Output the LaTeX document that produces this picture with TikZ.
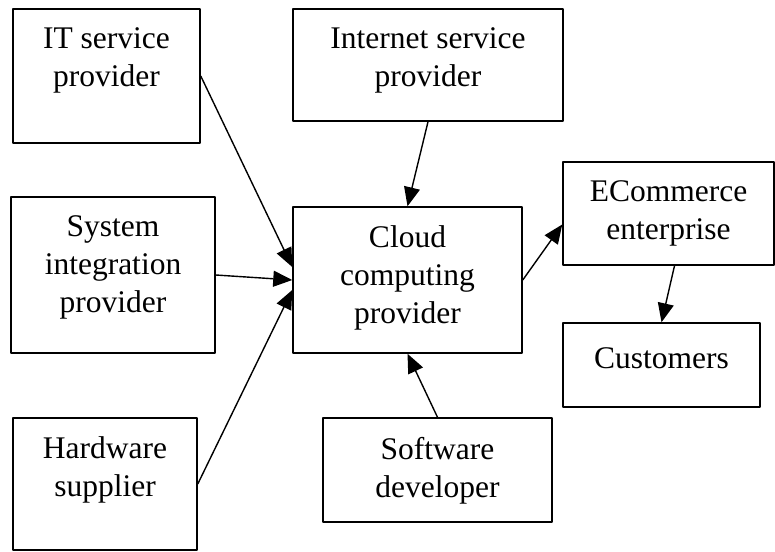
\documentclass[tikz,border=0pt]{standalone}
\usepackage{fontspec}
\setmainfont{Liberation Serif}
\usetikzlibrary{arrows.meta}
\tikzset{
	box/.style={draw, line width=1.5pt, inner sep=0pt},
	txt/.style={align=center, anchor=north, inner sep=0pt, font=\fontsize{31.5}{38}\selectfont, execute at begin node=\strut},
	arr/.style={line width=1.4pt, -{Triangle[length=19pt, width=16pt]}}
}
\begin{document}
\begin{tikzpicture}[x=1pt, y=1pt, line join=round]
	\useasboundingbox (0,0) rectangle (775,-551);
	\def\pad{19.5}
	\node[box, minimum width=187, minimum height=134] (it) at (106.5,-76) {};
	\node[box, minimum width=270, minimum height=112] (isp) at (428,-65) {};
	\node[box, minimum width=204, minimum height=156] (sys) at (113,-275) {};
	\node[box, minimum width=229, minimum height=146] (cloud) at (407.5,-280) {};
	\node[box, minimum width=211, minimum height=103] (ecom) at (668.5,-213.5) {};
	\node[box, minimum width=197, minimum height=84] (cust) at (661.5,-365) {};
	\node[box, minimum width=184, minimum height=132] (hw) at (105,-484) {};
	\node[box, minimum width=229, minimum height=104] (sw) at (437.5,-470) {};
	% texts
	\node[txt] (itT) at ([yshift=-\pad]it.north) {IT service\\provider};
	\node[txt] (ispT) at ([yshift=-\pad]isp.north) {Internet service\\provider};
	\node[txt] (sysT) at ([yshift=-\pad]sys.north) {System\\integration\\provider};
	\node[txt] (cloudT) at ([yshift=-\pad]cloud.north) {Cloud\\computing\\provider};
	\node[txt] (ecomT) at ([yshift=-\pad]ecom.north) {ECommerce\\enterprise};
	\node[txt] (custT) at ([yshift=-\pad]cust.north) {Customers};
	\node[txt] (hwT) at ([yshift=-\pad]hw.north) {Hardware\\supplier};
	\node[txt] (swT) at ([yshift=-\pad]sw.north) {Software\\developer};
	% arrows
	\foreach \src/\dy in {it/13, sys/0, hw/-10} \draw[arr] (\src.east) -- ([yshift=\dy]cloud.west);
	\draw[arr] (isp.south) -- (cloud.north);
	\draw[arr] (sw.north) -- (cloud.south);
	\draw[arr] (cloud.east) -- ([yshift=-11]ecom.west);
	\draw[arr] ([xshift=6]ecom.south) -- (cust.north);
\end{tikzpicture}
\end{document}
